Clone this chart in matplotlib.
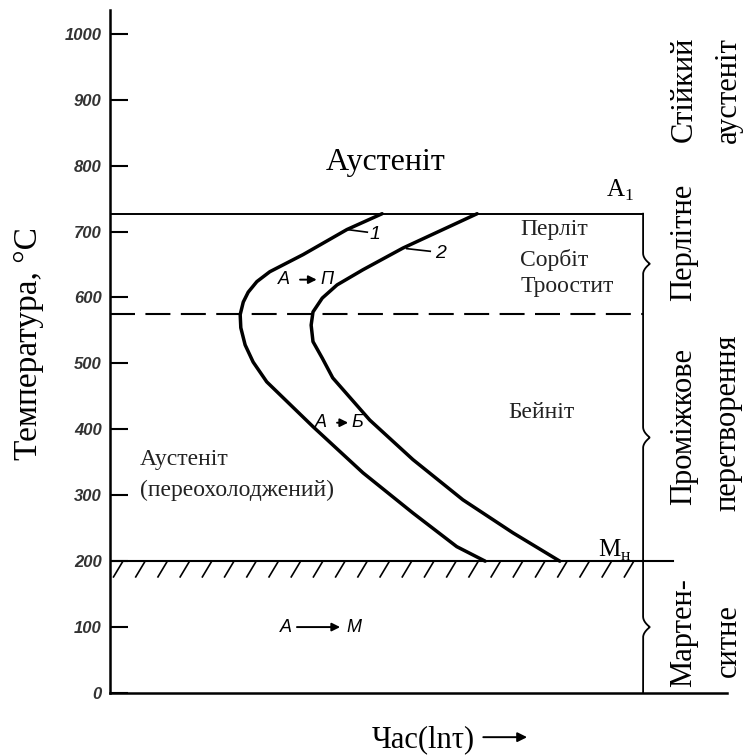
import numpy as np
import matplotlib.pyplot as plt

# temperature axis
temp_ticks = [0, 100, 200, 300, 400, 500, 600, 700, 800, 900, 1000]

# critical temperatures
a1_temp = 727
bend_temp = 575
ms_temp = 200

# C-curves: start (1) and end (2) of transformation, time in arbitrary ln(t) units
curve1_time = [44.1, 38.4, 31.3, 25.9, 23.8, 22.4, 21.6, 21.1, 21.2, 21.9,
               23.2, 25.4, 32.9, 41.0, 49.1, 56.2, 60.8]
curve1_temp = [727, 703, 665, 639, 624, 608, 593, 574, 554, 528,
               502, 472, 404, 334, 273, 222, 200]
curve2_time = [59.5, 47.5, 41.0, 36.8, 34.4, 32.9, 32.6, 32.9, 34.4, 36.1,
               42.1, 49.1, 57.2, 65.3, 72.9]
curve2_temp = [727, 675, 642, 619, 599, 578, 558, 533, 508, 478,
               414, 354, 293, 243, 200]

serif = 'Liberation Serif'
sans = 'Liberation Sans'

fig = plt.figure(figsize=(7.47, 7.56), dpi=100)
ax = fig.add_axes([110 / 747, 63 / 756, 617 / 747, 683 / 756])
ax.set_xlim(0, 100)
ax.set_ylim(0, 1036)

for side in ['top', 'right']:
    ax.spines[side].set_visible(False)
ax.spines['left'].set_linewidth(1.8)
ax.spines['bottom'].set_linewidth(1.8)

ax.set_xticks([])
ax.set_yticks(temp_ticks)
ax.set_yticklabels([str(t) for t in temp_ticks], fontfamily=sans,
                   fontstyle='italic', fontweight='bold', fontsize=12,
                   color='#333333')
ax.tick_params(axis='y', direction='in', length=13, width=1.5, pad=6)

# horizontal boundaries
x_edge = 86.4
ax.plot([0, x_edge], [a1_temp, a1_temp], color='black', lw=1.4)
ax.plot([0, x_edge], [bend_temp, bend_temp], color='black', lw=1.5,
        dashes=(12, 5))
ax.plot([0, 91.2], [ms_temp, ms_temp], color='black', lw=1.5)

# hatching under Ms
for xh in np.arange(2.1, 85, 3.6):
    ax.plot([xh, xh - 1.6], [ms_temp, ms_temp - 25], color='black', lw=1.2,
            solid_capstyle='butt')

# C-curves
ax.plot(curve1_time, curve1_temp, color='black', lw=2.5,
        solid_joinstyle='round', solid_capstyle='round')
ax.plot(curve2_time, curve2_temp, color='black', lw=2.5,
        solid_joinstyle='round', solid_capstyle='round')


def brace(top, bottom, width=1.1, half=16):
    mid = (top + bottom) / 2
    t = np.linspace(bottom, top, 400)
    d = np.clip(np.abs(t - mid) / half, 0, 1)
    ax.plot(x_edge + width * (1 - d) ** 2, t, color='black', lw=1.3,
            clip_on=False)


brace(a1_temp, bend_temp)
brace(bend_temp, ms_temp)
brace(ms_temp, 0)

# curve numbers with leaders
ax.plot([38.4, 41.7], [703, 699], color='black', lw=1.2)
ax.text(43.0, 695, '1', fontfamily=sans, fontstyle='italic', fontsize=14,
        ha='center', va='center')
ax.plot([48.1, 51.9], [674, 670], color='black', lw=1.2)
ax.text(53.5, 666, '2', fontfamily=sans, fontstyle='italic', fontsize=14,
        ha='center', va='center')


def transform_label(x_from, x_to, x_a, x_b, temp, left, right):
    ax.text(x_a, temp, left, fontfamily=sans, fontstyle='italic', fontsize=13,
            ha='center', va='center')
    ax.text(x_b, temp, right, fontfamily=sans, fontstyle='italic', fontsize=13,
            ha='center', va='center')
    ax.annotate('', xy=(x_to, temp), xytext=(x_from, temp),
                arrowprops=dict(arrowstyle='-|>', color='black', lw=1.4,
                                mutation_scale=12, shrinkA=0, shrinkB=0))


transform_label(30.8, 33.5, 28.2, 35.2, 627, 'A', 'П')
transform_label(36.8, 38.6, 34.2, 40.1, 410, 'A', 'Б')
transform_label(30.3, 37.3, 28.5, 39.5, 100, 'A', 'M')

# region names
ax.text(44.7, 804, 'Аустеніт', fontfamily=serif, fontsize=23,
        ha='center', va='center')
ax.text(82.7, 763, 'A$_\\mathregular{1}$', fontfamily=serif, fontsize=18,
        ha='center', va='center')
ax.text(81.8, 217, 'M$_\\mathregular{н}$', fontfamily=serif, fontsize=18,
        ha='center', va='center')
for name, temp in [('Перліт', 703), ('Сорбіт', 657), ('Троостит', 616)]:
    ax.text(66.5, temp, name, fontfamily=serif, fontsize=17,
            ha='left', va='center', color='#222222')
ax.text(69.9, 426, 'Бейніт', fontfamily=serif, fontsize=17,
        ha='center', va='center', color='#222222')
ax.text(4.9, 354, 'Аустеніт', fontfamily=serif, fontsize=17,
        ha='left', va='center', color='#222222')
ax.text(4.9, 308, '(переохолоджений)', fontfamily=serif, fontsize=17,
        ha='left', va='center', color='#222222')

# transformation ranges on the right
side_labels = [
    (93.0, 915, 'Стійкий'), (100.2, 915, 'аустеніт'),
    (93.0, 684, 'Перлітне'),
    (93.0, 404, 'Проміжкове'), (100.2, 410, 'перетворення'),
    (93.0, 91, 'Мартен-'), (100.2, 79, 'ситне'),
]
for x, temp, name in side_labels:
    ax.text(x, temp, name, fontfamily=serif, fontsize=22, rotation=90,
            ha='center', va='center', clip_on=False)

# axis titles
fig.text(29 / 747, 1 - 344 / 756, 'Температура, °C', fontfamily=serif,
         fontsize=24, rotation=90, ha='center', va='center')
ax.text(50.7, -71, 'Час(lnτ)', fontfamily=serif, fontsize=22,
        ha='center', va='center', clip_on=False)
ax.annotate('', xy=(67.6, -67), xytext=(60.5, -67),
            arrowprops=dict(arrowstyle='-|>', color='black', lw=1.4,
                            mutation_scale=14, shrinkA=0, shrinkB=0),
            annotation_clip=False)

fig.savefig('out.png', dpi=100)
